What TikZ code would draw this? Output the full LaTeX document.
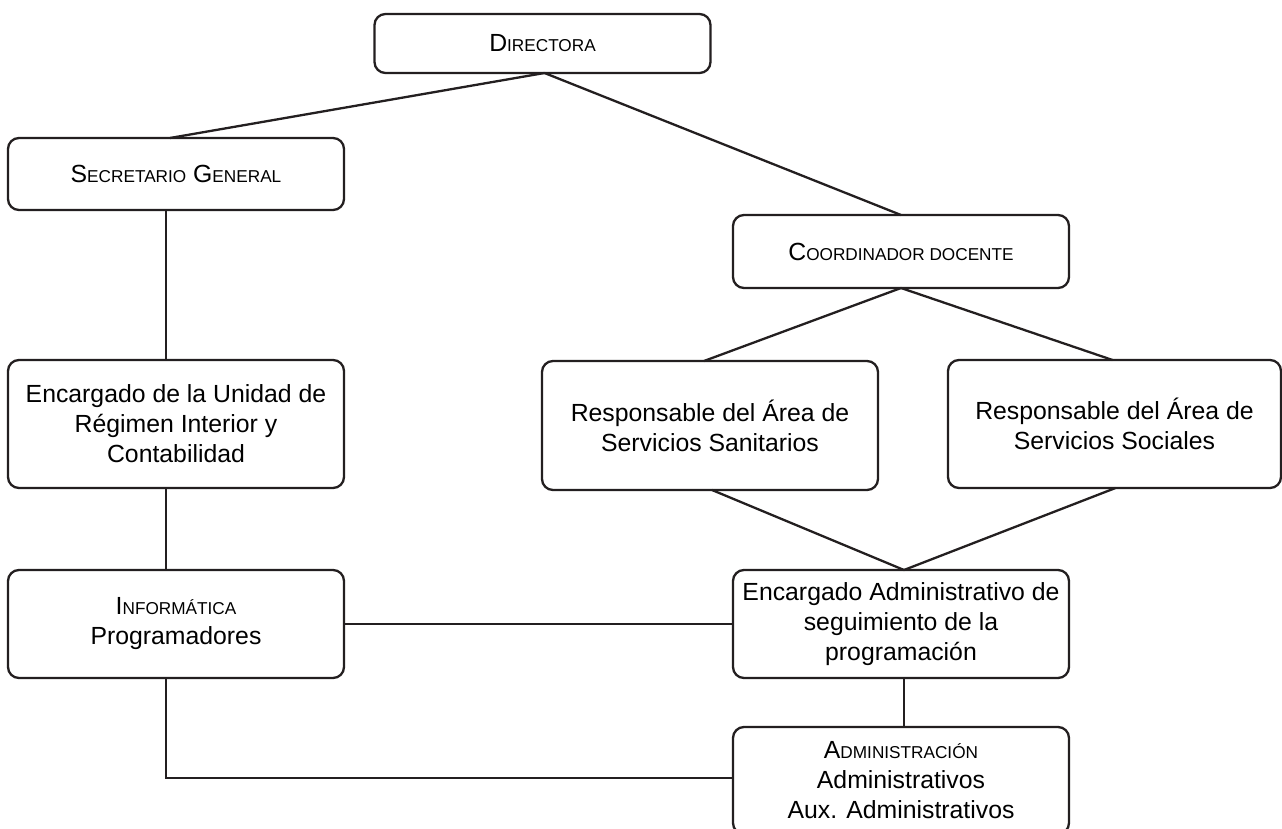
\documentclass[tikz,border=0pt]{standalone}
\usepackage{fontspec}
\setmainfont{Liberation Sans}
\definecolor{ink}{HTML}{231F20}
\newcommand{\smc}[1]{{\fontsize{17.2}{21}\selectfont #1}}
\begin{document}
\begin{tikzpicture}[x=1pt,y=-1pt,
  box/.style={draw=ink, line width=2.3pt, rounded corners=11pt, inner sep=0pt, outer sep=0pt,
    minimum width=336pt, align=center, text=black,
    font=\fontsize{24.8}{30}\selectfont},
  conn/.style={draw=ink, line width=2.3pt}]
\useasboundingbox (0,0) rectangle (1282,829);
\node[box, minimum height=59pt] (dir) at (542.5,43.5) {D\smc{IRECTORA}};
\node[box, minimum height=72pt] (sec) at (176,174) {S\smc{ECRETARIO} G\smc{ENERAL}};
\node[box, minimum height=73pt] (coo) at (901,251.5) {C\smc{OORDINADOR DOCENTE}};
\node[box, minimum height=128pt] (unid) at (176,424) {Encargado de la Unidad de\\Régimen Interior y\\Contabilidad};
\node[box, minimum height=129pt] (san) at (710,425.5) {Responsable del Área de\\Servicios Sanitarios};
\node[box, minimum height=128pt, minimum width=333pt] (soc) at (1114.5,424) {Responsable del Área de\\Servicios Sociales};
\node[box, minimum height=108pt] (inf) at (176,624) {I\smc{NFORMÁTICA}\\Programadores};
\node[box, minimum height=108pt] (enc) at (901,624) {Encargado Administrativo de\\seguimiento de la\\programación};
\node[box, minimum height=107pt] (adm) at (901,780.5) {A\smc{DMINISTRACIÓN}\\Administrativos\\Aux. Administrativos};
\draw[conn] ([xshift=2pt]dir.south) -- ([xshift=-6pt]sec.north);
\draw[conn] ([xshift=2pt]dir.south) -- (coo.north);
\draw[conn] ([xshift=-10pt]sec.south) -- ([xshift=-10pt]unid.north);
\draw[conn] (coo.south) -- ([xshift=-6pt]san.north);
\draw[conn] (coo.south) -- ([xshift=-2pt]soc.north);
\draw[conn] ([xshift=2pt]san.south) -- ([xshift=3pt]enc.north);
\draw[conn] ([xshift=1pt]soc.south) -- ([xshift=3pt]enc.north);
\draw[conn] ([xshift=-10pt]unid.south) -- ([xshift=-10pt]inf.north);
\draw[conn] (inf.east) -- (enc.west);
\draw[conn] ([xshift=3pt]enc.south) -- ([xshift=3pt]adm.north);
\draw[conn] ([xshift=-10pt]inf.south) |- ([yshift=2.5pt]adm.west);
\end{tikzpicture}
\end{document}
